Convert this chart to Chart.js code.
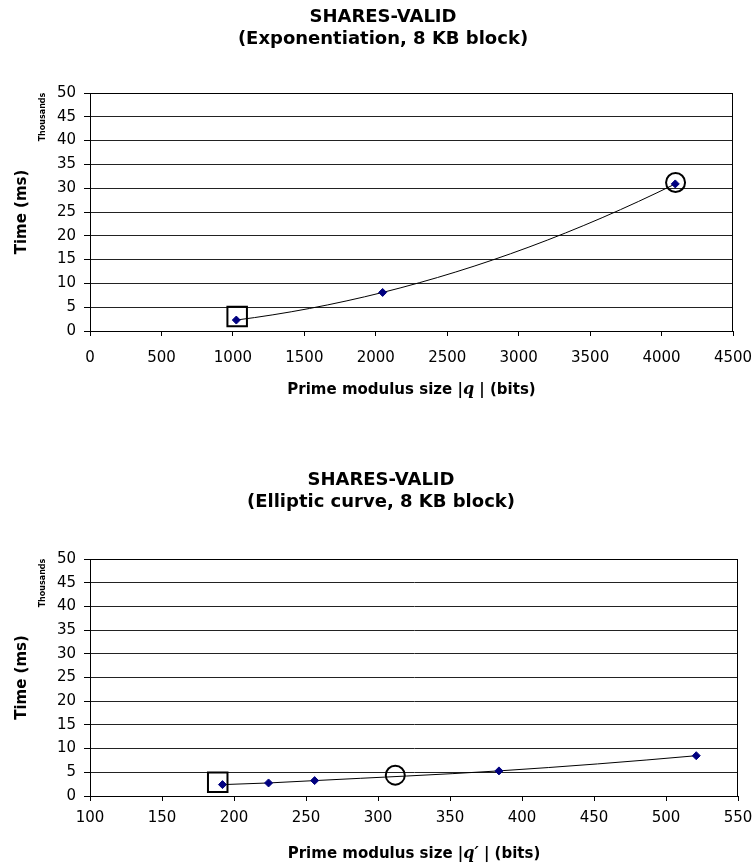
<!DOCTYPE html>
<html>
<head>
<meta charset="utf-8">
<script src="https://cdn.jsdelivr.net/npm/chart.js@4/dist/chart.umd.min.js"></script>
<style>
  html, body { margin: 0; padding: 0; background: #fff; overflow: hidden; }
  #wrap { position: relative; width: 755px; height: 867px; }
  .box { position: absolute; left: 0; width: 755px; }
</style>
</head>
<body>
<div id="wrap">
  <div class="box" style="top:0;height:415px"><canvas id="expChart"></canvas></div>
  <div class="box" style="top:415px;height:452px"><canvas id="ecChart"></canvas></div>
</div>
<script>
// data (time in thousands of ms)
const expBits = [1024, 2048, 4096];
const expTime = [2.3, 8.1, 30.9];
const expSquare = [1030, 3.05];   // boxed point
const expCircle = [4098, 31.2];   // circled point

const ecBits = [192, 224, 256, 384, 521];
const ecTime = [2.4, 2.75, 3.25, 5.3, 8.5];
const ecSquare = [188.7, 2.9];
const ecCircle = [312, 4.4];

const yRange = [0, 50, 5];
const expXRange = [0, 4500, 500];
const ecXRange = [100, 550, 50];

const FONT = '"DejaVu Sans", sans-serif';

const toPoints = (xs, ys) => xs.map((x, i) => ({ x: x, y: ys[i] }));

// slopes from local parabolas, like Excel's smoothed line
function slopes(xs, ys) {
    const n = xs.length, m = [];
    const h = [], d = [];
    for (let i = 0; i < n - 1; i++) {
        h.push(xs[i + 1] - xs[i]);
        d.push((ys[i + 1] - ys[i]) / h[i]);
    }
    if (n === 2) return [d[0], d[0]];
    m[0] = d[0] - h[0] * (d[1] - d[0]) / (h[0] + h[1]);
    for (let i = 1; i < n - 1; i++) {
        m[i] = (h[i] * d[i - 1] + h[i - 1] * d[i]) / (h[i - 1] + h[i]);
    }
    const k = n - 1;
    m[k] = d[k - 1] + h[k - 1] * (d[k - 1] - d[k - 2]) / (h[k - 2] + h[k - 1]);
    return m;
}

// titles, axis titles, plot frame and the smoothed series line
const decor = {
    id: 'decor',
    beforeDatasetsDraw(chart, args, o) {
        const ctx = chart.ctx, a = chart.chartArea;
        const sx = chart.scales.x, sy = chart.scales.y;
        ctx.save();
        ctx.strokeStyle = '#000';
        ctx.lineWidth = 1;
        ctx.strokeRect(Math.round(a.left) + 0.5, Math.round(a.top) + 0.5,
                       Math.round(a.right - a.left) - 1, Math.round(a.bottom - a.top));

        const xs = o.lineX, ys = o.lineY, m = slopes(xs, ys);
        const px = v => sx.getPixelForValue(v), py = v => sy.getPixelForValue(v);
        ctx.beginPath();
        ctx.moveTo(px(xs[0]), py(ys[0]));
        for (let i = 0; i < xs.length - 1; i++) {
            const h = (xs[i + 1] - xs[i]) / 3;
            ctx.bezierCurveTo(px(xs[i] + h), py(ys[i] + m[i] * h),
                              px(xs[i + 1] - h), py(ys[i + 1] - m[i + 1] * h),
                              px(xs[i + 1]), py(ys[i + 1]));
        }
        ctx.stroke();
        ctx.restore();
    },
    afterDraw(chart, args, o) {
        const ctx = chart.ctx, a = chart.chartArea;
        ctx.save();
        ctx.fillStyle = '#000';

        // chart title
        ctx.font = 'bold 18px ' + FONT;
        ctx.textAlign = 'center';
        ctx.textBaseline = 'alphabetic';
        o.title.forEach((line, i) => ctx.fillText(line, o.titleX, o.titleY[i]));

        // y title + units
        const midY = (a.top + a.bottom) / 2;
        ctx.save();
        ctx.translate(o.yTitleX, midY);
        ctx.rotate(-Math.PI / 2);
        ctx.font = 'bold 15px ' + FONT;
        ctx.textBaseline = 'middle';
        ctx.fillText('Time (ms)', 0, 0);
        ctx.restore();

        ctx.save();
        ctx.translate(o.unitX, a.top + 24);
        ctx.rotate(-Math.PI / 2);
        ctx.font = 'bold 8px ' + FONT;
        ctx.textBaseline = 'middle';
        ctx.fillText('Thousands', 0, 0);
        ctx.restore();

        // x title with italic q
        const parts = o.xTitle;
        ctx.textAlign = 'left';
        let total = 0;
        parts.forEach(p => { ctx.font = p.font; total += ctx.measureText(p.text).width; });
        let x = (a.left + a.right) / 2 - total / 2;
        parts.forEach(p => {
            ctx.font = p.font;
            ctx.fillText(p.text, x, o.xTitleY);
            x += ctx.measureText(p.text).width;
        });
        ctx.restore();
    }
};

function makeChart(id, xs, ys, sq, circ, xRange, cfg) {
    const sans = 'bold 15px ' + FONT;
    const serif = 'italic bold 16px "DejaVu Serif", serif';
    return new Chart(document.getElementById(id), {
        type: 'scatter',
        data: {
            datasets: [
                {
                    data: [{ x: sq[0], y: sq[1] }],
                    pointStyle: 'rect', pointRadius: 13.8, pointBorderWidth: 2,
                    pointBorderColor: '#000', pointBackgroundColor: 'rgba(0,0,0,0)'
                },
                {
                    data: [{ x: circ[0], y: circ[1] }],
                    pointStyle: 'circle', pointRadius: 9.5, pointBorderWidth: 2,
                    pointBorderColor: '#000', pointBackgroundColor: 'rgba(0,0,0,0)'
                },
                {
                    data: toPoints(xs, ys),
                    showLine: false,
                    pointStyle: 'rectRot', pointRadius: 4, pointBorderWidth: 1,
                    pointBackgroundColor: '#000080', pointBorderColor: '#000080'
                }
            ]
        },
        options: {
            responsive: true,
            maintainAspectRatio: false,
            animation: false,
            events: [],
            layout: { padding: cfg.padding },
            plugins: {
                legend: { display: false },
                tooltip: { enabled: false },
                decor: {
                    lineX: xs, lineY: ys,
                    title: cfg.title, titleX: cfg.titleX, titleY: cfg.titleY,
                    yTitleX: 22, unitX: 43, xTitleY: cfg.xTitleY,
                    xTitle: [
                        { text: 'Prime modulus size |', font: sans },
                        { text: cfg.qName, font: serif },
                        { text: ' | (bits)', font: sans }
                    ]
                }
            },
            scales: {
                x: {
                    type: 'linear',
                    min: xRange[0], max: xRange[1],
                    ticks: {
                        stepSize: xRange[2], autoSkip: false, maxRotation: 0,
                        color: '#000', padding: cfg.xTickPad, font: { family: FONT, size: 15 },
                        callback: v => String(v)
                    },
                    grid: { drawOnChartArea: false, tickLength: 5, tickColor: '#000' },
                    border: { color: '#000', width: 1 },
                    afterFit: s => { s.height = cfg.xAxisHeight; s.paddingLeft = 0; s.paddingRight = 0; }
                },
                y: {
                    min: yRange[0], max: yRange[1],
                    ticks: {
                        stepSize: yRange[2], color: '#000', padding: 8,
                        font: { family: FONT, size: 15 }
                    },
                    grid: { color: '#222', tickLength: 6, tickColor: '#000' },
                    border: { color: '#000', width: 1 },
                    afterFit: s => { s.width = 90; s.paddingTop = 0; s.paddingBottom = 0; }
                }
            }
        },
        plugins: [decor]
    });
}

makeChart('expChart', expBits, expTime, expSquare, expCircle, expXRange, {
    padding: { left: 0, right: 22, top: 93, bottom: 0 },
    xAxisHeight: 84, xTickPad: 13,
    title: ['SHARES-VALID', '(Exponentiation, 8 KB block)'],
    titleX: 383, titleY: [22, 44],
    xTitleY: 394,
    qName: 'q'
});

makeChart('ecChart', ecBits, ecTime, ecSquare, ecCircle, ecXRange, {
    padding: { left: 0, right: 17, top: 144, bottom: 0 },
    xAxisHeight: 71, xTickPad: 8,
    title: ['SHARES-VALID', '(Elliptic curve, 8 KB block)'],
    titleX: 381, titleY: [70, 92],
    xTitleY: 443,
    qName: 'q\u2032'
});
</script>
</body>
</html>
